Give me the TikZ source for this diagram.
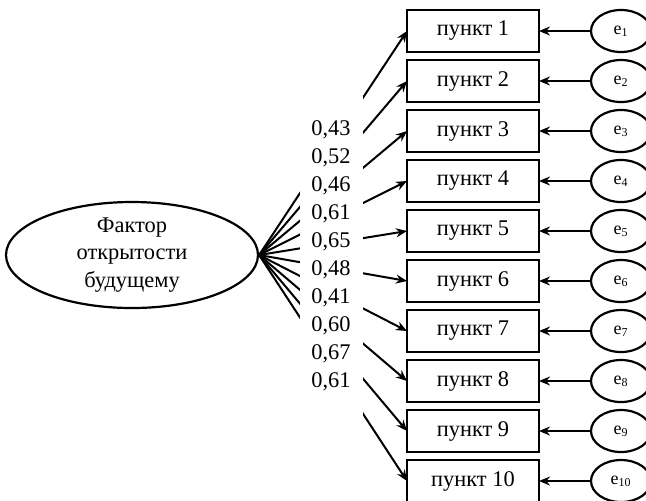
\documentclass[tikz,border=0pt]{standalone}
\usepackage{fontspec}
\setmainfont{Liberation Serif}
\usetikzlibrary{arrows.meta, shapes.geometric, positioning}

\begin{document}
\begin{tikzpicture}[
    x=0.5pt, y=-0.5pt,
    font=\fontsize{11.2}{14}\selectfont,
    fac/.style={draw, ellipse, line width=1.1pt, minimum width=126pt,
                minimum height=53pt, inner sep=0pt, align=center,
                font=\fontsize{11.2}{13.75}\selectfont},
    item/.style={draw, line width=1.3pt, minimum width=66pt,
                 minimum height=21pt, outer sep=0pt},
    err/.style={draw, ellipse, line width=1.1pt, minimum width=30pt,
                minimum height=21pt, inner sep=0pt, outer sep=0pt,
                font=\fontsize{9}{10}\selectfont},
    arr/.style={-{Stealth[length=5.5pt, width=4.5pt]}, line width=1pt},
    node distance=4pt and 26pt
]
    \clip (0,0) rectangle (646,500);

    \node[fac] (fac) at (132,255) {Фактор\\открытости\\будущему};

    \node[item] (p1) at (473,31) {пункт 1};
    \node[item, below=of p1] (p2) {пункт 2};
    \node[item, below=of p2] (p3) {пункт 3};
    \node[item, below=of p3] (p4) {пункт 4};
    \node[item, below=of p4] (p5) {пункт 5};
    \node[item, below=of p5] (p6) {пункт 6};
    \node[item, below=of p6] (p7) {пункт 7};
    \node[item, below=of p7] (p8) {пункт 8};
    \node[item, below=of p8] (p9) {пункт 9};
    \node[item, below=of p9] (p10) {пункт 10};

    \node[err, right=of p1] (e1) {e\textsubscript{1}};
    \node[err, right=of p2] (e2) {e\textsubscript{2}};
    \node[err, right=of p3] (e3) {e\textsubscript{3}};
    \node[err, right=of p4] (e4) {e\textsubscript{4}};
    \node[err, right=of p5] (e5) {e\textsubscript{5}};
    \node[err, right=of p6] (e6) {e\textsubscript{6}};
    \node[err, right=of p7] (e7) {e\textsubscript{7}};
    \node[err, right=of p8] (e8) {e\textsubscript{8}};
    \node[err, right=of p9] (e9) {e\textsubscript{9}};
    \node[err, right=of p10] (e10) {e\textsubscript{10}};

    % loadings
    \draw[arr] (fac.east) -- (p1.west);
    \draw[arr] (fac.east) -- (p2.west);
    \draw[arr] (fac.east) -- (p3.west);
    \draw[arr] (fac.east) -- (p4.west);
    \draw[arr] (fac.east) -- (p5.west);
    \draw[arr] (fac.east) -- (p6.west);
    \draw[arr] (fac.east) -- (p7.west);
    \draw[arr] (fac.east) -- (p8.west);
    \draw[arr] (fac.east) -- (p9.west);
    \draw[arr] (fac.east) -- (p10.west);

    \node[fill=white, align=right, minimum width=31.5pt,
          minimum height=162pt, inner sep=0pt] (loads) at (331,256)
        {0,43\\0,52\\0,46\\0,61\\0,65\\0,48\\0,41\\0,60\\0,67\\0,61};

    % errors
    \draw[arr] (e1) -- (p1);
    \draw[arr] (e2) -- (p2);
    \draw[arr] (e3) -- (p3);
    \draw[arr] (e4) -- (p4);
    \draw[arr] (e5) -- (p5);
    \draw[arr] (e6) -- (p6);
    \draw[arr] (e7) -- (p7);
    \draw[arr] (e8) -- (p8);
    \draw[arr] (e9) -- (p9);
    \draw[arr] (e10) -- (p10);
\end{tikzpicture}
\end{document}
